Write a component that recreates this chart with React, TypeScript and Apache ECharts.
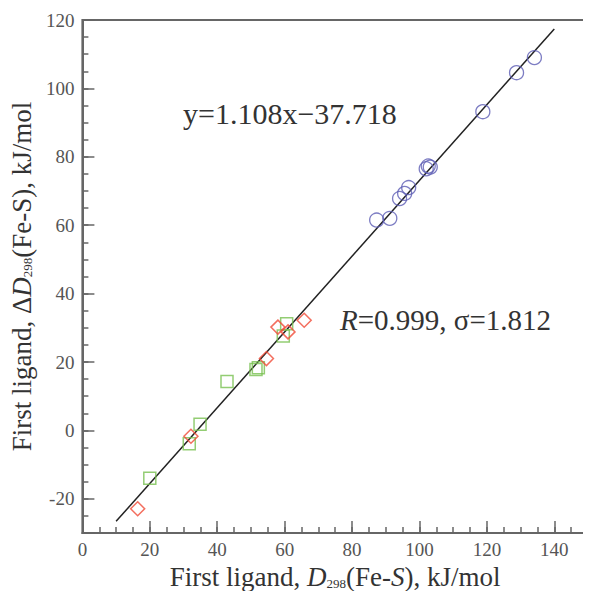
import React, { useEffect, useRef } from "react";
import * as echarts from "echarts";

const circleData: number[][] = [
  [87.3, 61.5], [91.2, 62.0], [94.1, 67.8], [95.6, 69.3], [96.8, 71.0],
  [102.0, 76.5], [102.6, 77.3], [103.2, 77.0], [118.8, 93.2], [128.8, 104.6], [134.1, 109.0],
];
const squareData: number[][] = [
  [20.0, -14.0], [31.7, -3.9], [34.9, 1.8], [42.9, 14.3], [51.5, 17.8],
  [52.2, 18.3], [59.6, 27.6], [60.6, 31.2],
];
const diamondData: number[][] = [
  [16.4, -22.9], [32.2, -1.7], [54.6, 21.0], [58.0, 30.2], [61.0, 28.8], [65.8, 32.2],
];
const fitLine: number[][] = [[10, -26.6], [140, 117.4]];

const xRange = [0, 150];
const yRange = [-30, 120];
const majorStep = 20;
const minorStep = 5;

const FONT = "Liberation Serif";
const AXIS_COLOR = "#666";
const LABEL_COLOR = "#555";
const TEXT_COLOR = "#333";

export default function App() {
  const ref = useRef<HTMLDivElement>(null);
  useEffect(() => {
    if (!ref.current) return;
    const chart = echarts.init(ref.current, null, { renderer: "svg" });
    const majorLabel = (v: number) => (v % majorStep === 0 ? String(v) : "");
    const titleRich = {
      n: { fontSize: 27, fontFamily: FONT, color: TEXT_COLOR },
      i: { fontSize: 27, fontFamily: FONT, fontStyle: "italic", color: TEXT_COLOR },
      s: { fontSize: 13, fontFamily: FONT, color: TEXT_COLOR, padding: [12, 0, 0, 0] },
    };
    const option: any = {
      animation: false,
      textStyle: { fontFamily: FONT },
      grid: {
        left: 80, top: 20, right: -2, bottom: 66,
        show: true, borderColor: AXIS_COLOR, borderWidth: 2,
      },
      xAxis: [
        {
          type: "value", position: "bottom",
          min: xRange[0], max: xRange[1], minInterval: majorStep, maxInterval: majorStep,
          splitLine: { show: false },
          axisLine: { show: true, onZero: false, lineStyle: { color: AXIS_COLOR, width: 2 } },
          axisTick: { show: true, inside: true, length: 12, lineStyle: { color: AXIS_COLOR, width: 1.5 } },
          axisLabel: { formatter: majorLabel, color: LABEL_COLOR, fontSize: 19, fontFamily: FONT, margin: 7 },
          name: "{n|First ligand, }{i|D}{s|298}{n|(Fe-}{i|S}{n|), kJ/mol}",
          nameLocation: "middle", nameGap: 30,
          nameTextStyle: { rich: titleRich },
        },
        {
          type: "value", position: "bottom",
          min: xRange[0], max: xRange[1], interval: minorStep,
          splitLine: { show: false },
          axisLine: { show: false, onZero: false },
          axisTick: { show: true, inside: true, length: 6, lineStyle: { color: AXIS_COLOR, width: 1.5 } },
          axisLabel: { show: false },
        },
      ],
      yAxis: [
        {
          type: "value", position: "left",
          min: yRange[0], max: yRange[1], minInterval: majorStep, maxInterval: majorStep,
          splitLine: { show: false },
          axisLine: { show: true, onZero: false, lineStyle: { color: AXIS_COLOR, width: 2 } },
          axisTick: { show: true, inside: true, length: 12, lineStyle: { color: AXIS_COLOR, width: 1.5 } },
          axisLabel: { formatter: majorLabel, color: LABEL_COLOR, fontSize: 19, fontFamily: FONT, margin: 8 },
          name: "{n|First ligand, Δ}{i|D}{s|298}{n|(Fe-S), kJ/mol}",
          nameLocation: "middle", nameGap: 39, nameRotate: 90,
          nameTextStyle: { rich: titleRich },
        },
        {
          type: "value", position: "left",
          min: yRange[0], max: yRange[1], interval: minorStep,
          splitLine: { show: false },
          axisLine: { show: false, onZero: false },
          axisTick: { show: true, inside: true, length: 6, lineStyle: { color: AXIS_COLOR, width: 1.5 } },
          axisLabel: { show: false },
        },
      ],
      series: [
        {
          type: "line", data: fitLine, xAxisIndex: 0, yAxisIndex: 0,
          symbol: "none", lineStyle: { color: "#222", width: 1.5 }, z: 1,
        },
        {
          type: "scatter", data: circleData, xAxisIndex: 0, yAxisIndex: 0,
          symbol: "circle", symbolSize: 14,
          itemStyle: { color: "transparent", borderColor: "#5c5cb4", borderWidth: 1.3 }, z: 2,
        },
        {
          type: "scatter", data: squareData, xAxisIndex: 0, yAxisIndex: 0,
          symbol: "rect", symbolSize: 12,
          itemStyle: { color: "transparent", borderColor: "#78c050", borderWidth: 1.5 }, z: 2,
        },
        {
          type: "scatter", data: diamondData, xAxisIndex: 0, yAxisIndex: 0,
          symbol: "diamond", symbolSize: 14,
          itemStyle: { color: "transparent", borderColor: "#f04a36", borderWidth: 1.5 }, z: 2,
        },
      ],
      graphic: [
        {
          type: "text", left: 183, top: 98,
          style: { text: "y=1.108x\u221237.718", font: `30px "${FONT}"`, fill: TEXT_COLOR },
        },
        {
          type: "text", left: 340, top: 305,
          style: {
            text: "{i|R}{n|=0.999, σ=1.812}",
            rich: {
              i: { fontSize: 29, fontFamily: FONT, fontStyle: "italic", fill: TEXT_COLOR },
              n: { fontSize: 29, fontFamily: FONT, fill: TEXT_COLOR },
            },
          },
        },
      ],
    };
    chart.setOption(option);
    return () => chart.dispose();
  }, []);
  return <div ref={ref} style={{ width: 591, height: 599, margin: -8 }} />;
}
